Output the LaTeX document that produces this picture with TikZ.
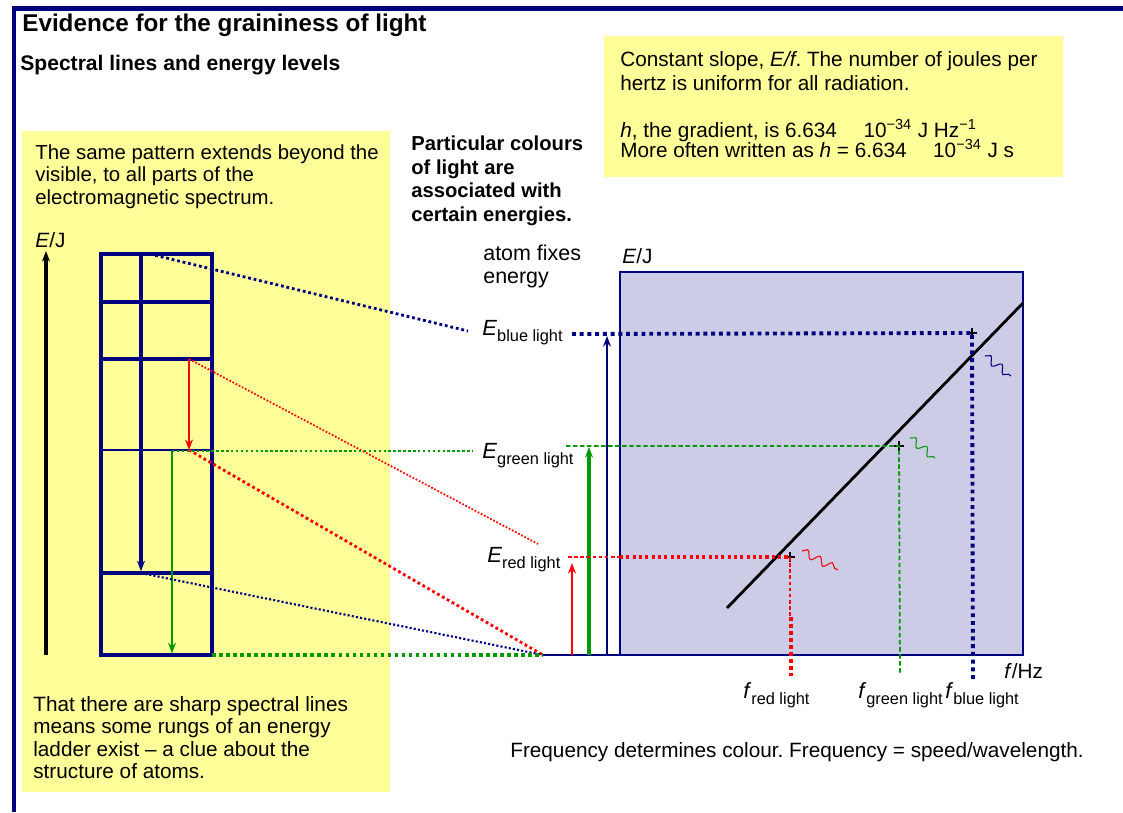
\documentclass[tikz,border=0pt]{standalone}
\usepackage{fontspec}
\setmainfont{Liberation Sans}
\usetikzlibrary{arrows.meta,calc,positioning,decorations.pathmorphing}
\definecolor{navy}{RGB}{0,0,128}
\definecolor{paleyellow}{RGB}{255,255,153}
\definecolor{lilac}{RGB}{204,204,230}
\definecolor{leaf}{RGB}{0,153,0}
\newcommand{\lvl}[2]{{\fontsize{12.5}{13}\selectfont\textit{#1}}\raisebox{-0.55ex}{\fontsize{9.3}{10}\selectfont #2}}

\begin{document}
\frenchspacing
\begin{tikzpicture}[x=0.02cm,y=-0.02cm,>={Stealth[length=6pt,width=4.5pt]},
  txt/.style={inner sep=0pt,anchor=base west,font=\fontsize{11.8}{13}\selectfont},
  para/.style={inner sep=0pt,anchor=north west,align=left,font=\fontsize{11.8}{12.8}\selectfont},
  rung/.style={navy,line width=2.2pt},
  dots/.style={line width=#1,dash pattern=on #1 off #1},
  photon/.style={decorate,decoration={snake,amplitude=2.2pt,segment length=8pt},line width=0.6pt}]
\useasboundingbox (0,0) rectangle (1123,812);

% frame and panels
\draw[navy,line width=2.5pt] (14,812) -- (14,8.5) -- (1123,8.5);
\fill[paleyellow] (22,131) rectangle (390,792);
\fill[paleyellow] (604,36) rectangle (1063,177);

\node[txt,font=\bfseries\fontsize{13.8}{16}\selectfont] (title) at (22,31) {Evidence for the graininess of light};
\node[txt,font=\bfseries\fontsize{12}{14}\selectfont] (sub) at (20,70) {Spectral lines and energy levels};

\node[para,font=\fontsize{11.6}{12.8}\selectfont] (pattern) at (35,144) {The same pattern extends beyond the\\visible, to all parts of the\\electromagnetic spectrum.};
\node[para] (clue) at (33,696) {That there are sharp spectral lines\\means some rungs of an energy\\ladder exist -- a clue about the\\structure of atoms.};
\node[para,font=\bfseries\fontsize{11.5}{13.3}\selectfont] (colours) at (411,136) {Particular colours\\of light are\\associated with\\certain energies.};
\node[para,font=\fontsize{12.2}{13}\selectfont] (fixes) at (483,245) {atom fixes\\energy};
\node[txt] (slope) at (620,66) {Constant slope, \textit{E/f}. The number of joules per};
\node[txt] (slope2) at (620,90) {hertz is uniform for all radiation.};
\node[txt] (gradient) at (620,137) {\textit{h}, the gradient, is 6.634\quad\ 10\textsuperscript{−34} J Hz\textsuperscript{−1}};
\node[txt] (often) at (620,157) {More often written as \textit{h} = 6.634\quad\ 10\textsuperscript{−34} J s};
\node[txt] (freq) at (510,757) {Frequency determines colour. Frequency = speed/wavelength.};

% energy ladder
\node[txt] (Eleft) at (35,247) {\textit{E}/J};
\draw[->,line width=1.8pt] (46,655) -- (46,251);
\draw[rung] (101,254) rectangle (212,655);
\foreach \y in {302,359,573}
  \draw[rung] (101,\y) -- (212,\y);
\draw[navy,line width=1.2pt] (101,450) -- (212,450);
\coordinate (top) at (141,254);
\coordinate (low) at (141,573);
\coordinate (r1) at (189,359);
\coordinate (r2) at (189,450);
\coordinate (g1) at (172,451);
\coordinate (g2) at (172,655);
\draw[->,navy,line width=2.2pt] (top) -- ([yshift=1pt]low);
\draw[->,red,line width=1.2pt] (r1) -- (r2);
\draw[->,leaf,line width=1.2pt] (g1) -- ([yshift=1pt]g2);

% energy labels
\node[txt] (Eblue) at (482,335) {\lvl{E}{blue light}};
\node[txt] (Egreen) at (482,458) {\lvl{E}{green light}};
\node[txt] (Ered) at (487,562) {\lvl{E}{red light}};
\coordinate (O) at (543,655);
\coordinate (eb) at (468,331);
\coordinate (eg) at (473,451);
\coordinate (er) at (538,544);

\draw[navy,dots=1.6pt] ([xshift=5pt]top) -- (eb);
\draw[red,dots=1pt] (r1) -- (er);
\draw[red,dots=1.6pt] (r2) -- (O);
\draw[leaf,dots=1.4pt] (g1) -- (eg);
\draw[navy,dots=1.2pt] (low) -- (O);
\draw[leaf,dots=2pt] (212,655) -- (O);

% graph
\node[txt] (Egraph) at (622,263) {\textit{E}/J};
\draw[navy,fill=lilac,line width=1.2pt] (620,272) rectangle (1023,655);
\draw[navy,line width=1.2pt] (O) -- (620,655);
\node[txt] (fHz) at (1004,678) {\textit{f}/Hz};
\draw[line width=1.6pt] (727,608) -- (1023,303);
\coordinate (pr) at (790,557);
\coordinate (pg) at (899,446);
\coordinate (pb) at (972,333);
\foreach \p in {pr,pg,pb}
  \draw[line width=0.6pt] ($(\p)+(-5,0)$) -- ($(\p)+(5,0)$) ($(\p)+(0,-5)$) -- ($(\p)+(0,5)$);

\draw[->,red,line width=1pt] (572,655) -- (572,563);
\draw[->,leaf,line width=2.6pt] (589,655) -- (589,447);
\draw[->,navy,line width=1pt] (607,655) -- (607,336);

\draw[red,dash pattern=on 2pt off 1.5pt,line width=1pt] (568,557) -- (620,557);
\draw[red,dots=1.8pt] (620,557) -- (pr);
\draw[red,dash pattern=on 2pt off 1.5pt,line width=1pt] (pr) -- (790,617);
\draw[red,dots=2pt] (791,617) -- (791,676);
\draw[leaf,dash pattern=on 2.5pt off 1.5pt,line width=1pt] (566,446) -- (pg) -- (900,674);
\draw[navy,dots=2.2pt] (572,334) -- (pb) -- (973,679);

% photons
\draw[red,photon] (802,551) -- (838,570);
\draw[leaf,photon] (910,438) -- (935,458);
\draw[navy,photon] (985,356) -- (1011,376);

\node[txt] (fred) at (743,698) {\lvl{f}{red light}};
\node[txt] (fgreen) at (858,698) {\lvl{f}{green light}};
\node[txt] (fblue) at (945,698) {\lvl{f}{blue light}};
\end{tikzpicture}
\end{document}
